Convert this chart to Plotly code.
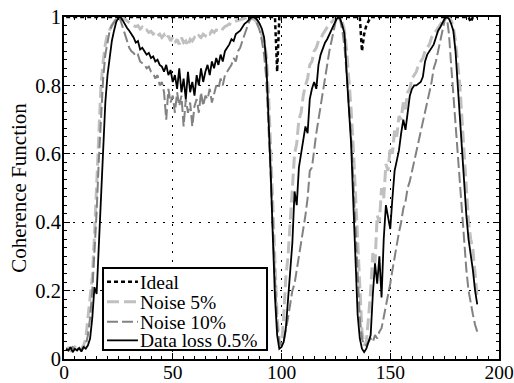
import plotly.graph_objects as go

# Frequency index
x_vals = list(range(1, 191))

ideal = [1.0] * 190
ideal_dips_x = [98, 137, 138, 139, 140, 187]
ideal_dips_y = [0.84, 0.90, 0.95, 0.975, 0.99, 0.985]
for dx, dy in zip(ideal_dips_x, ideal_dips_y):
    ideal[dx - 1] = dy

noise5 = [
    0.030, 0.032, 0.025, 0.030, 0.035, 0.028, 0.025, 0.030, 0.040, 0.060,
    0.120, 0.200, 0.240, 0.360, 0.520, 0.660, 0.800, 0.870, 0.920, 0.950,
    0.965, 0.975, 0.985, 0.993, 0.998, 1.000, 0.998, 0.993, 0.988, 0.983,
    0.980, 0.975, 0.972, 0.975, 0.965, 0.970, 0.960, 0.962, 0.955, 0.958,
    0.950, 0.955, 0.945, 0.950, 0.940, 0.948, 0.935, 0.945, 0.930, 0.940,
    0.925, 0.935, 0.920, 0.940, 0.925, 0.930, 0.915, 0.935, 0.930, 0.940,
    0.935, 0.945, 0.940, 0.950, 0.945, 0.955, 0.950, 0.960, 0.955, 0.962,
    0.960, 0.968, 0.965, 0.972, 0.975, 0.980, 0.978, 0.985, 0.988, 0.990,
    0.992, 0.995, 0.997, 0.999, 1.000, 0.998, 0.995, 0.990, 0.980, 0.965,
    0.950, 0.930, 0.890, 0.780, 0.620, 0.440, 0.260, 0.120, 0.050, 0.040,
    0.120, 0.240, 0.300, 0.410, 0.500, 0.600, 0.630, 0.700, 0.720, 0.770,
    0.800, 0.820, 0.860, 0.870, 0.900, 0.910, 0.930, 0.935, 0.950, 0.960,
    0.970, 0.980, 0.985, 0.993, 0.998, 1.000, 0.998, 0.985, 0.960, 0.900,
    0.820, 0.730, 0.620, 0.480, 0.320, 0.180, 0.080, 0.040, 0.050, 0.120,
    0.200, 0.310, 0.280, 0.420, 0.400, 0.500, 0.470, 0.570, 0.550, 0.620,
    0.600, 0.670, 0.650, 0.710, 0.700, 0.750, 0.730, 0.780, 0.790, 0.820,
    0.830, 0.840, 0.860, 0.870, 0.880, 0.900, 0.910, 0.920, 0.940, 0.950,
    0.960, 0.970, 0.980, 0.990, 0.997, 1.000, 0.998, 0.990, 0.970, 0.930,
    0.870, 0.800, 0.700, 0.590, 0.480, 0.400, 0.350, 0.320, 0.250, 0.180,
]

noise10 = [
    0.030, 0.025, 0.030, 0.035, 0.025, 0.030, 0.030, 0.025, 0.035, 0.040,
    0.070, 0.120, 0.200, 0.300, 0.430, 0.580, 0.720, 0.820, 0.890, 0.930,
    0.960, 0.975, 0.985, 0.995, 1.000, 0.990, 0.970, 0.950, 0.930, 0.910,
    0.900, 0.895, 0.885, 0.890, 0.870, 0.865, 0.860, 0.850, 0.855, 0.840,
    0.835, 0.820, 0.830, 0.800, 0.810, 0.780, 0.700, 0.790, 0.750, 0.770,
    0.720, 0.780, 0.740, 0.770, 0.680, 0.760, 0.720, 0.750, 0.680, 0.740,
    0.760, 0.720, 0.780, 0.740, 0.770, 0.760, 0.790, 0.750, 0.780, 0.800,
    0.790, 0.820, 0.800, 0.830, 0.840, 0.850, 0.860, 0.880, 0.870, 0.900,
    0.910, 0.930, 0.950, 0.970, 0.985, 0.995, 1.000, 0.995, 0.980, 0.960,
    0.930, 0.890, 0.820, 0.700, 0.540, 0.380, 0.220, 0.100, 0.050, 0.040,
    0.050, 0.080, 0.120, 0.160, 0.200, 0.220, 0.260, 0.300, 0.330, 0.370,
    0.420, 0.470, 0.550, 0.560, 0.620, 0.660, 0.700, 0.740, 0.790, 0.830,
    0.870, 0.900, 0.930, 0.960, 0.990, 1.000, 0.990, 0.960, 0.910, 0.830,
    0.750, 0.650, 0.520, 0.380, 0.240, 0.120, 0.060, 0.040, 0.040, 0.050,
    0.060, 0.050, 0.070, 0.060, 0.080, 0.090, 0.120, 0.150, 0.190, 0.220,
    0.260, 0.300, 0.330, 0.370, 0.400, 0.440, 0.460, 0.500, 0.520, 0.550,
    0.580, 0.600, 0.630, 0.660, 0.690, 0.720, 0.750, 0.780, 0.810, 0.850,
    0.870, 0.900, 0.940, 0.960, 0.990, 1.000, 0.950, 0.860, 0.770, 0.690,
    0.600, 0.520, 0.440, 0.350, 0.260, 0.200, 0.160, 0.130, 0.100, 0.080,
]

data_loss = [
    0.030, 0.025, 0.035, 0.020, 0.030, 0.025, 0.032, 0.022, 0.035, 0.030,
    0.040, 0.060, 0.120, 0.210, 0.190, 0.330, 0.490, 0.640, 0.750, 0.830,
    0.890, 0.930, 0.960, 0.985, 0.998, 1.000, 0.990, 0.978, 0.968, 0.960,
    0.950, 0.940, 0.925, 0.930, 0.905, 0.910, 0.900, 0.890, 0.895, 0.880,
    0.885, 0.870, 0.875, 0.860, 0.855, 0.840, 0.860, 0.830, 0.845, 0.810,
    0.830, 0.790, 0.850, 0.780, 0.820, 0.760, 0.840, 0.780, 0.810, 0.770,
    0.830, 0.800, 0.850, 0.810, 0.840, 0.860, 0.830, 0.870, 0.850, 0.880,
    0.860, 0.890, 0.870, 0.900, 0.910, 0.920, 0.935, 0.930, 0.950, 0.955,
    0.960, 0.970, 0.980, 0.985, 0.993, 0.998, 1.000, 0.997, 0.990, 0.980,
    0.965, 0.940, 0.870, 0.730, 0.550, 0.360, 0.180, 0.070, 0.030, 0.035,
    0.050, 0.090, 0.170, 0.260, 0.340, 0.490, 0.450, 0.560, 0.600, 0.650,
    0.680, 0.660, 0.760, 0.790, 0.810, 0.790, 0.860, 0.890, 0.910, 0.925,
    0.935, 0.950, 0.965, 0.980, 0.990, 1.000, 0.995, 0.975, 0.950, 0.830,
    0.740, 0.630, 0.460, 0.270, 0.130, 0.060, 0.030, 0.020, 0.030, 0.050,
    0.070, 0.190, 0.280, 0.220, 0.300, 0.180, 0.350, 0.450, 0.410, 0.380,
    0.470, 0.550, 0.580, 0.610, 0.660, 0.700, 0.670, 0.720, 0.770, 0.790,
    0.800, 0.800, 0.805, 0.810, 0.825, 0.870, 0.890, 0.900, 0.910, 0.920,
    0.940, 0.960, 0.970, 0.985, 0.995, 1.000, 0.995, 0.980, 0.960, 0.900,
    0.800, 0.730, 0.620, 0.520, 0.420, 0.350, 0.310, 0.260, 0.200, 0.160,
]

series_names = ["Ideal", "Noise 5%", "Noise 10%", "Data loss 0.5%"]

x_ticks = [0, 50, 100, 150, 200]
y_ticks = [0, 0.2, 0.4, 0.6, 0.8, 1.0]
y_tick_labels = ["0", "0.2", "0.4", "0.6", "0.8", "1"]

FONT = "Liberation Serif"

styles = [
    dict(color="black", width=2.5, dash="4px,3px"),
    dict(color="rgb(192,192,192)", width=3, dash="12px,5px"),
    dict(color="rgb(130,130,130)", width=2, dash="11px,4px"),
    dict(color="black", width=1.8),
]

fig = go.Figure()
for name, ys, st in zip(series_names, [ideal, noise5, noise10, data_loss], styles):
    fig.add_trace(go.Scatter(x=x_vals, y=ys, mode="lines", name=name,
                             line=st, showlegend=False))

axis_common = dict(
    showline=True, linecolor="black", linewidth=2, mirror="ticks",
    ticks="inside", ticklen=6, tickwidth=1, tickcolor="black",
    showgrid=True, gridcolor="black", gridwidth=1.3, griddash="2px,7px",
    zeroline=False, automargin=False,
)

fig.update_xaxes(range=[0, 200], tickvals=x_ticks, **axis_common,
                 ticklabelstandoff=-5,
                 tickfont=dict(family=FONT, size=19.5, color="black"),
                 minor=dict(ticks="inside", ticklen=3, dtick=5, tickcolor="black", showgrid=False))
fig.update_yaxes(range=[0, 1], tickvals=y_ticks, ticktext=y_tick_labels, **axis_common,
                 ticklabelstandoff=-3,
                 tickfont=dict(family=FONT, size=20.5, color="black"),
                 minor=dict(ticks="inside", ticklen=3, dtick=0.025, tickcolor="black", showgrid=False),
                 title=dict(text="Coherence Function", font=dict(family=FONT, size=21, color="black"),
                            standoff=3))

# Legend box drawn in paper coordinates (layout decoration)
leg_x0, leg_x1, leg_y0, leg_y1 = 0.0897, 0.4667, 0.0263, 0.266
sample_x0, sample_x1, text_x = 0.0989, 0.170, 0.169
row_y = [0.226, 0.1675, 0.109, 0.0545]

shapes = [dict(type="rect", xref="paper", yref="paper", x0=leg_x0, x1=leg_x1,
               y0=leg_y0, y1=leg_y1, line=dict(color="black", width=2),
               fillcolor="white", layer="above")]
annotations = []
for name, st, ry in zip(series_names, styles, row_y):
    shapes.append(dict(type="line", xref="paper", yref="paper", x0=sample_x0, x1=sample_x1,
                       y0=ry, y1=ry, line=st, layer="above"))
    annotations.append(dict(text=name, xref="paper", yref="paper", x=text_x, y=ry,
                            xanchor="left", yanchor="middle", showarrow=False,
                            height=18, valign="middle",
                            font=dict(family=FONT, size=19.5, color="black")))

fig.update_layout(
    width=514, height=383,
    margin=dict(l=64, r=15, t=17, b=24),
    plot_bgcolor="white", paper_bgcolor="white",
    font=dict(family=FONT, size=21, color="black"),
    shapes=shapes, annotations=annotations,
    showlegend=False,
)

fig.write_html(
    "out.html",
    config={"displayModeBar": False},
    post_script="document.body.style.margin='0';document.body.style.overflow='hidden';",
)
